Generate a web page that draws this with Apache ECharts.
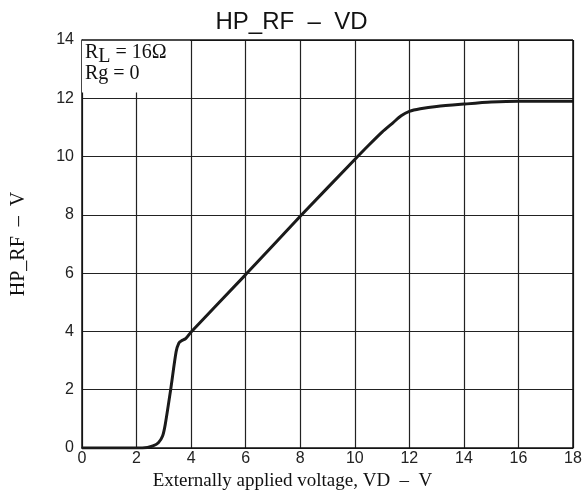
<!DOCTYPE html>
<html>
<head>
<meta charset="utf-8">
<script src="https://cdn.jsdelivr.net/npm/echarts@6/dist/echarts.min.js"></script>
<style>html,body{margin:0;padding:0;background:#fff}#c{width:583px;height:496px}</style>
</head>
<body>
<div id="c"></div>
<script>
var titleText = 'HP_RF  \u2013  VD';
var xAxisName = 'Externally applied voltage, VD  \u2013  V';
var yAxisName = 'HP_RF  \u2013  V';
var vd    = [0, 2.0, 2.4, 2.6, 2.8, 2.95, 3.05, 3.25, 3.45, 3.55, 3.65, 3.8, 4.0, 6, 8, 10, 10.5, 11, 11.4, 11.7, 12.0, 12.4, 13, 14, 15, 16, 18];
var hprf  = [0, 0, 0.02, 0.07, 0.18, 0.4, 0.8, 2.0, 3.3, 3.6, 3.68, 3.75, 3.98, 5.95, 7.95, 9.9, 10.38, 10.84, 11.16, 11.4, 11.55, 11.64, 11.72, 11.8, 11.87, 11.9, 11.9];
var noteLine1 = 'R{sub|L} = 16\u03A9';
var noteLine2 = 'Rg = 0';

var data = vd.map(function (v, i) { return [v, hprf[i]]; });
var chart = echarts.init(document.getElementById('c'), null, {renderer: 'canvas'});
var serif = 'Liberation Serif, Times New Roman, serif';
var sans = 'Liberation Sans, Arial, sans-serif';
chart.setOption({
  animation: false,
  backgroundColor: '#fff',
  title: {
    text: titleText, left: 'center', top: 5,
    textStyle: {fontFamily: sans, fontSize: 24, fontWeight: 'normal', color: '#111'}
  },
  grid: {left: 82, right: 10, top: 40, bottom: 48, containLabel: false, outerBoundsMode: 'none'},
  xAxis: {
    type: 'value', min: 0, max: 18, interval: 2,
    name: xAxisName, nameLocation: 'middle', nameGap: 24,
    nameTextStyle: {fontFamily: serif, fontSize: 19, color: '#111', padding: [0, 70, 0, 0]},
    axisLine: {show: true, onZero: false, lineStyle: {color: '#111', width: 1.5}},
    axisTick: {show: false},
    axisLabel: {fontFamily: sans, fontSize: 16, color: '#222', margin: 3},
    splitLine: {show: true, lineStyle: {color: '#222', width: 1.2}}
  },
  yAxis: {
    type: 'value', min: 0, max: 14, interval: 2,
    name: yAxisName, nameLocation: 'middle', nameGap: 53, nameRotate: 90,
    nameTextStyle: {fontFamily: serif, fontSize: 20, color: '#111'},
    axisLine: {show: true, lineStyle: {color: '#111', width: 1.5}},
    axisTick: {show: false},
    axisLabel: {fontFamily: sans, fontSize: 16, color: '#222', margin: 8},
    splitLine: {show: true, lineStyle: {color: '#222', width: 1.2}}
  },
  graphic: [
    {type: 'line', shape: {x1: 82, y1: 40, x2: 573, y2: 40}, style: {stroke: '#111', lineWidth: 1.5}, z: 100, silent: true},
    {type: 'line', shape: {x1: 573, y1: 40, x2: 573, y2: 448}, style: {stroke: '#111', lineWidth: 1.5}, z: 100, silent: true},
    {type: 'text', left: 85, top: 43, z: 101,
     style: {text: noteLine1, fill: '#111', font: '20px ' + serif,
       rich: {sub: {fontSize: 20, fontFamily: 'Liberation Serif', verticalAlign: 'bottom', padding: [7, 0, 0, 0], fill: '#111'}}}},
    {type: 'text', left: 85, top: 64, z: 101,
     style: {text: noteLine2, fill: '#111', font: '20px ' + serif}}
  ],
  series: [{
    type: 'line', data: data, showSymbol: false, smooth: 0.25,
    lineStyle: {color: '#1a1a1a', width: 3},
    markArea: {silent: true, itemStyle: {color: '#fff', borderWidth: 0},
      data: [[{coord: [0, 14]}, {coord: [3.96, 12.2]}]]}
  }]
});
</script>
</body>
</html>
